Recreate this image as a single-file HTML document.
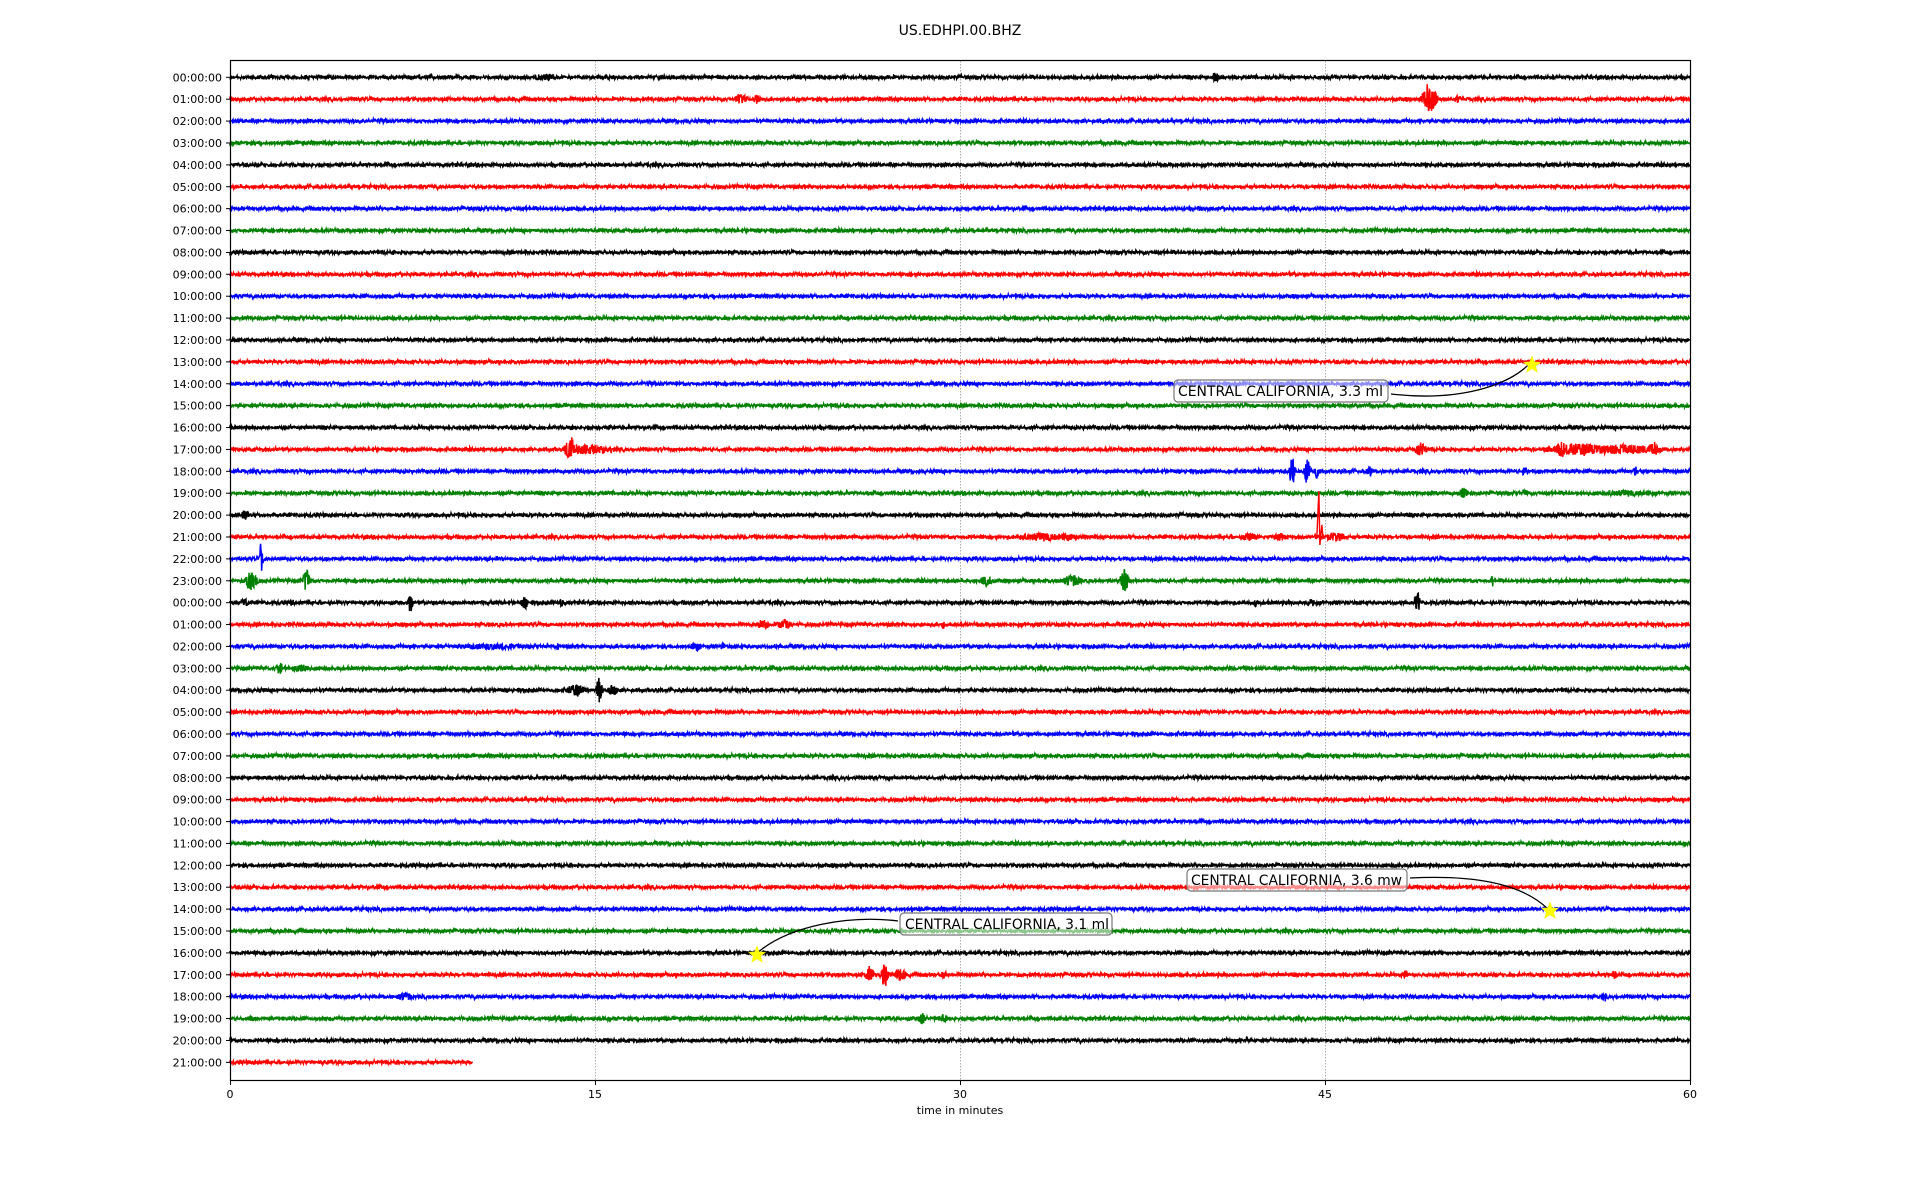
<!DOCTYPE html>
<html><head><meta charset="utf-8"><style>
html,body{margin:0;padding:0;background:#fff;width:1920px;height:1200px;overflow:hidden}
svg{display:block}
text{font-family:"DejaVu Sans","Liberation Sans",sans-serif;fill:#000}
</style></head><body>
<svg id="s" width="1920" height="1200" xmlns="http://www.w3.org/2000/svg">
<text x="960" y="35" font-size="14" text-anchor="middle">US.EDHPI.00.BHZ</text>
<g id="grid"></g>
<g id="traces"></g>
<g id="ticks" font-size="11"></g>
<rect x="230.5" y="60.5" width="1460" height="1020" fill="none" stroke="#000" stroke-width="1.2"/>
<g font-size="11" text-anchor="middle">
<line x1="230.5" y1="1080" x2="230.5" y2="1085" stroke="#000"/><text x="230" y="1098">0</text>
<line x1="595.5" y1="1080" x2="595.5" y2="1085" stroke="#000"/><text x="595" y="1098">15</text>
<line x1="960.5" y1="1080" x2="960.5" y2="1085" stroke="#000"/><text x="960" y="1098">30</text>
<line x1="1325.5" y1="1080" x2="1325.5" y2="1085" stroke="#000"/><text x="1325" y="1098">45</text>
<line x1="1690.5" y1="1080" x2="1690.5" y2="1085" stroke="#000"/><text x="1690" y="1098">60</text>
<text x="960" y="1114">time in minutes</text>
</g>
<g font-size="14.5">
<path d="M1391,394 C1460,402 1510,385 1530,363" fill="none" stroke="#000" stroke-width="1.3"/>
<rect x="1174" y="380" width="214" height="22" rx="4" fill="#fff" fill-opacity="0.55" stroke="#777" stroke-width="1.2"/>
<text x="1178" y="396" textLength="205" lengthAdjust="spacingAndGlyphs">CENTRAL CALIFORNIA, 3.3 ml</text>
<path d="M757,953 C790,925 850,915 898,921" fill="none" stroke="#000" stroke-width="1.3"/>
<rect x="900" y="913" width="212" height="22" rx="4" fill="#fff" fill-opacity="0.55" stroke="#777" stroke-width="1.2"/>
<text x="905" y="929" textLength="204" lengthAdjust="spacingAndGlyphs">CENTRAL CALIFORNIA, 3.1 ml</text>
<path d="M1410,878 C1470,875 1520,882 1548,909" fill="none" stroke="#000" stroke-width="1.3"/>
<rect x="1187" y="869" width="220" height="22" rx="4" fill="#fff" fill-opacity="0.55" stroke="#777" stroke-width="1.2"/>
<text x="1191" y="885" textLength="211" lengthAdjust="spacingAndGlyphs">CENTRAL CALIFORNIA, 3.6 mw</text>
</g>
<g id="stars"></g>
</svg>
<script>
var ns="http://www.w3.org/2000/svg";
function el(t,a,p){var e=document.createElementNS(ns,t);for(var k in a)e.setAttribute(k,a[k]);p.appendChild(e);return e;}
var seed=12345;function rnd(){seed=(seed*1103515245+12345)&0x7fffffff;return seed/0x7fffffff;}
function gauss(){return (rnd()+rnd()+rnd()-1.5)/1.5;}
var X0=230,W=1460,Y0=77.3,DY=21.89;
var colors=["#000","#f00","#00f","#008000"];
var grid=document.getElementById("grid"),tr=document.getElementById("traces"),tk=document.getElementById("ticks");
[595,960,1325].forEach(function(x){el("line",{x1:x+.5,y1:61,x2:x+.5,y2:1080,stroke:"#999","stroke-width":0.8,"stroke-dasharray":"1.5,1.5"},grid);});
function dx(xd){return 230+(xd-188)*1460/1192;}
var ev=[[0,445,4,10],[0,992,6,3],[1,290,3,2],[1,605,5,6],[1,618,5,3],[1,1167,13,6],[1,1190,4,3],
[17,465,12,4],[17,480,5,20],[17,1160,7,5],[17,1275,8,5],[17,1290,6,30],[17,1320,5,40],[17,1350,6,5],
[18,1055,18,2],[18,1067,14,2],[18,1075,8,2],[18,1118,6,2],[18,1245,6,2],[18,1335,5,2],
[19,1195,6,3],[19,1245,4,2],[19,1330,3,30],[20,200,5,4],
[21,855,4,30],[21,1020,4,8],[21,1045,4,6],[21,1090,5,8],
[22,213,20,1],[23,205,10,5],[23,250,12,3],[23,805,5,5],[23,875,6,8],[23,918,14,3],[23,1218,6,1],
[24,200,4,4],[24,238,4,3],[24,335,9,2],[24,428,7,3],[24,458,4,2],[24,1025,4,2],[24,1070,5,3],[24,1157,12,2],
[25,623,5,5],[25,640,5,6],[25,770,4,2],[26,400,3,40],[26,455,4,2],[26,568,4,5],[26,590,4,2],
[27,228,6,3],[27,245,4,8],[28,470,6,8],[28,489,14,2],[28,500,6,4],
[41,710,7,4],[41,722,12,3],[41,735,6,5],[41,770,5,3],[41,1147,5,2],[41,1318,5,2],
[42,330,4,8],[42,1310,5,3],[43,205,3,4],[43,462,3,15],[43,752,6,3],[43,770,5,2],[44,1018,5,1]];
for(var r=0;r<46;r++){
  var y=Y0+r*DY, len=(r==45)?243:W;
  var amp=new Float32Array(len+1);for(var i=0;i<=len;i++)amp[i]=2.0;
  ev.forEach(function(e){if(e[0]!=r)return;var cx=dx(e[1])-X0,w=Math.max(1,e[3]*1.22);
    for(var i=Math.max(0,Math.floor(cx-w*2));i<=Math.min(len,Math.ceil(cx+w*2));i++){var d=Math.abs(i-cx)/w;var a=e[2]*Math.exp(-d*d);if(a>amp[i])amp[i]=a;}});
  var d="M"+X0+","+y.toFixed(1);
  for(var i=0;i<=len;i+=0.34){var k=Math.floor(i);var v=gauss()*amp[k]*1.4;if(amp[k]>2.1&&rnd()<0.5)v=(rnd()<.5?-1:1)*amp[k]*(0.5+0.5*rnd());d+="L"+(X0+i).toFixed(2)+","+(y+v).toFixed(1);}
  el("path",{d:d,fill:"none",stroke:colors[r%4],"stroke-width":1.5},tr);
  el("line",{x1:226,y1:y,x2:230,y2:y,stroke:"#000"},tk);
  var h=r<24?r:r-24;var t=el("text",{x:222,y:y+4,"text-anchor":"end"},tk);t.textContent=(h<10?"0":"")+h+":00:00";
}
// tall red spike on 21:00 row reaching up to 19:00 row
var yr=Y0+21*DY, xs=dx(1077);
el("path",{d:"M"+(xs-2)+","+yr+"L"+xs+","+(yr-46)+"L"+(xs+1)+","+(yr+8)+"L"+(xs+3)+","+(yr-12)+"L"+(xs+4)+","+yr,fill:"none",stroke:"#f00","stroke-width":1.4},tr);
function star(cx,cy,R){var p=[];for(var i=0;i<10;i++){var a=-Math.PI/2+i*Math.PI/5,rr=i%2?R*0.42:R;p.push((cx+rr*Math.cos(a)).toFixed(1)+","+(cy+rr*Math.sin(a)).toFixed(1));}
el("polygon",{points:p.join(" "),fill:"#ff0",stroke:"#ee0","stroke-width":0.5},document.getElementById("stars"));}
star(1532,365,9);star(757,955,9);star(1550,911,9);
</script>
</body></html>
